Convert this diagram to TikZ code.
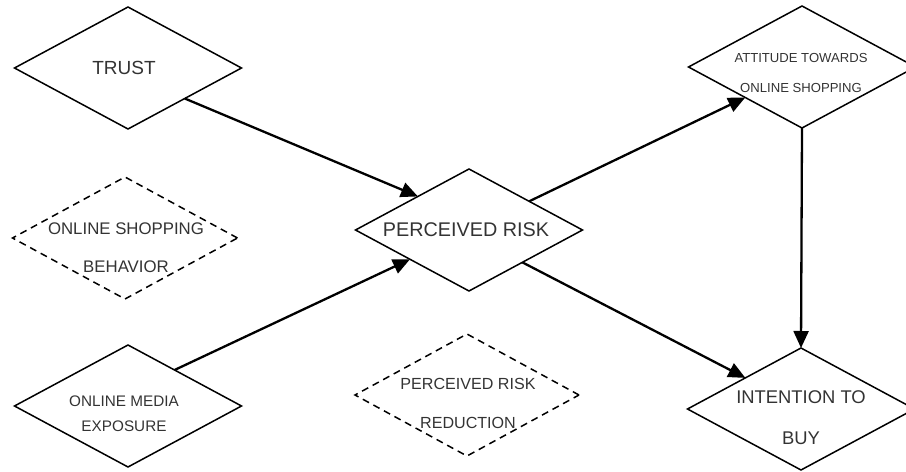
\documentclass[tikz,border=0pt]{standalone}
\usepackage{fontspec}
\setmainfont{Liberation Sans}
\usetikzlibrary{shapes.geometric,arrows.meta,calc}
\definecolor{inkgray}{HTML}{333333}
\tikzset{
  box/.style={diamond, draw=black, line width=1.5bp, inner sep=0pt, outer sep=0pt,
    minimum width=227bp, minimum height=122bp},
  dashbox/.style={box, dash pattern=on 7bp off 5bp},
  lbl/.style={text=inkgray, inner sep=0pt, align=center},
  link/.style={line width=2.3bp, -{Triangle[length=17bp,width=15bp]}}
}
\newcommand{\fs}[2]{\fontsize{#1bp}{#2bp}\selectfont}
\begin{document}
\begin{tikzpicture}[x=1bp,y=-1bp]
  \useasboundingbox (0,0) rectangle (906,472);
  \clip (0,0) rectangle (906,472);

  % construct boxes
  \node[box] (trust) at (128,68) {};
  \node[box] (risk) at (469,230) {};
  \node[box] (att) at (802,67) {};
  \node[box] (itb) at (801,409) {};
  \node[box] (ome) at (128,406) {};
  \node[dashbox, minimum width=225bp] (osb) at (125,238) {};
  \node[dashbox, minimum width=224bp] (prr) at (467,395) {};

  % labels
  \node[lbl, font=\fs{19}{22}] (ttrust) at (124,68) {TRUST};
  \node[lbl, font=\fs{19.8}{22}] (trisk) at (466,230) {PERCEIVED RISK};
  \node[lbl, font=\fs{13.1}{30}] (tatt) at (801,73) {ATTITUDE TOWARDS\\ONLINE SHOPPING};
  \node[lbl, font=\fs{18.4}{41}] (titb) at (801,417.5) {INTENTION TO\\BUY};
  \node[lbl, font=\fs{15.3}{25}] (tome) at (124,414) {ONLINE MEDIA\\EXPOSURE};
  \node[lbl, font=\fs{16.8}{38}] (tosb) at (126,248) {ONLINE SHOPPING\\BEHAVIOR};
  \node[lbl, font=\fs{16.1}{39}] (tprr) at (468,403.5) {PERCEIVED RISK\\REDUCTION};

  % paths between constructs
  \draw[link] ($(trust.east)!0.5!(trust.south)$) -- ($(risk.west)!0.55!(risk.north)$);
  \draw[link] ($(ome.east)!0.59!(ome.north)$) -- ($(risk.west)!0.48!(risk.south)$);
  \draw[link] ($(risk.east)!0.47!(risk.north)$) -- ($(att.west)!0.5!(att.south)$);
  \draw[link] ($(risk.east)!0.53!(risk.south)$) -- ($(itb.west)!0.51!(itb.north)$);
  \draw[link] (att.south) -- (itb.north);
\end{tikzpicture}
\end{document}
